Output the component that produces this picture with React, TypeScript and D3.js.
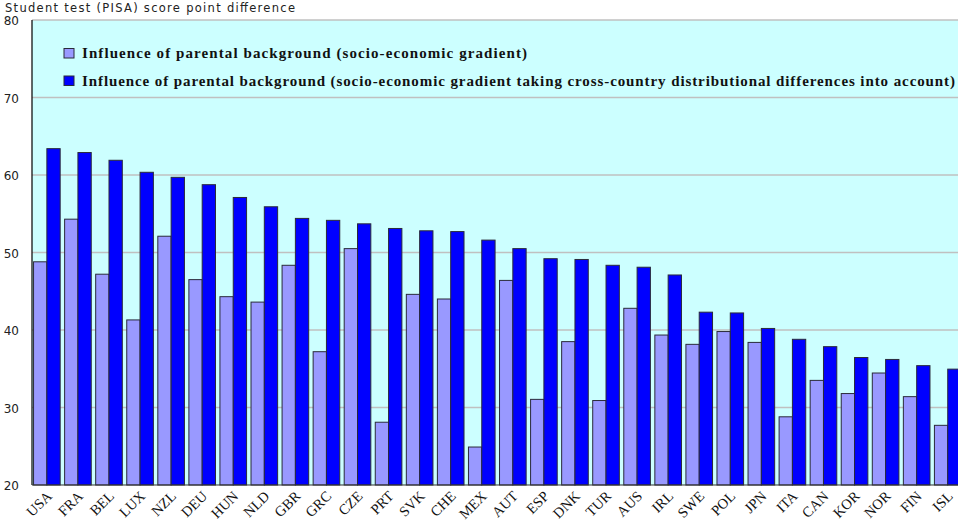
import React from 'react';
import * as d3 from 'd3';

const countries = ['USA', 'FRA', 'BEL', 'LUX', 'NZL', 'DEU', 'HUN', 'NLD', 'GBR', 'GRC', 'CZE', 'PRT', 'SVK', 'CHE', 'MEX', 'AUT', 'ESP', 'DNK', 'TUR', 'AUS', 'IRL', 'SWE', 'POL', 'JPN', 'ITA', 'CAN', 'KOR', 'NOR', 'FIN', 'ISL'];
const gradient = [48.8, 54.3, 47.2, 41.3, 52.1, 46.5, 44.3, 43.6, 48.35, 37.2, 50.5, 28.1, 44.6, 44.0, 24.9, 46.4, 31.05, 38.5, 30.9, 42.8, 39.35, 38.15, 39.8, 38.4, 28.8, 33.5, 31.8, 34.45, 31.4, 27.7];
const adjusted = [63.4, 62.9, 61.9, 60.35, 59.7, 58.75, 57.1, 55.9, 54.4, 54.15, 53.7, 53.1, 52.8, 52.7, 51.6, 50.5, 49.2, 49.1, 48.35, 48.1, 47.1, 42.3, 42.2, 40.2, 38.8, 37.85, 36.45, 36.2, 35.4, 34.95];
const yTicks = [20, 30, 40, 50, 60, 70, 80];
const seriesNames = [
  'Influence of parental background (socio-economic gradient)',
  'Influence of parental background (socio-economic gradient taking cross-country distributional differences into account)',
];
const seriesColors = ['#9999ff', '#0000ff'];
const yTitle = 'Student test (PISA) score point difference';

const W = 958;
const H = 522;
const left = 32;
const right = 962.6;
const top = 20;
const bottom = 485;

export default function App() {
  const x = d3.scaleBand<string>().domain(countries).range([left, right]).paddingInner(0.143).paddingOuter(0.05);
  const sub = d3.scaleBand<number>().domain([0, 1]).range([0, x.bandwidth()]);
  const y = d3.scaleLinear().domain([20, 80]).range([bottom, top]);
  const series = [gradient, adjusted];

  return (
    <svg width={W} height={H} style={{ position: 'absolute', left: 0, top: 0 }}>
      <rect x={left} y={top} width={right - left} height={bottom - top} fill="#ccffff" />
      {yTicks.filter(t => t > 20).map(t => (
        <line key={t} x1={left} x2={right} y1={y(t)} y2={y(t)} stroke="#c0c0c0" strokeWidth={1.6} />
      ))}
      {countries.map((c, i) => (
        <g key={c}>
          {series.map((s, k) => (
            <rect
              key={k}
              x={(x(c) ?? 0) + (sub(k) ?? 0)}
              y={y(s[i])}
              width={sub.bandwidth()}
              height={bottom - y(s[i])}
              fill={seriesColors[k]}
              stroke="#2a2a3a"
              strokeWidth={1}
            />
          ))}
        </g>
      ))}
      <line x1={left} x2={left} y1={top} y2={bottom} stroke="#000" strokeWidth={1.2} />
      <line x1={left} x2={right} y1={bottom} y2={bottom} stroke="#333" strokeWidth={1.2} />
      {yTicks.map(t => (
        <text key={t} x={19} y={y(t) + 1} dy="0.35em" textAnchor="end" fontFamily="DejaVu Sans" fontSize={12} fill="#222">
          {t}
        </text>
      ))}
      <text x={5} y={12} fontFamily="DejaVu Sans" fontSize={11.5} fill="#222" textLength={290} lengthAdjust="spacing">
        {yTitle}
      </text>
      {countries.map(c => (
        <text
          key={c}
          transform={`translate(${(x(c) ?? 0) + x.bandwidth() / 2 + 6},${bottom + 12}) rotate(-45)`}
          textAnchor="end"
          fontFamily="Liberation Serif"
          fontSize={14.5}
          fill="#111"
        >
          {c}
        </text>
      ))}
      {seriesNames.map((n, k) => (
        <g key={n} transform={`translate(64,${48.5 + k * 27.5})`}>
          <rect x={0} y={0} width={10} height={9.5} fill={seriesColors[k]} stroke="#2a2a3a" strokeWidth={1} />
          <text x={18} y={9.8} fontFamily="Liberation Serif" fontWeight="bold" fontSize={15} fill="#111" textLength={k === 0 ? 445 : 873} lengthAdjust="spacing">
            {n}
          </text>
        </g>
      ))}
    </svg>
  );
}
